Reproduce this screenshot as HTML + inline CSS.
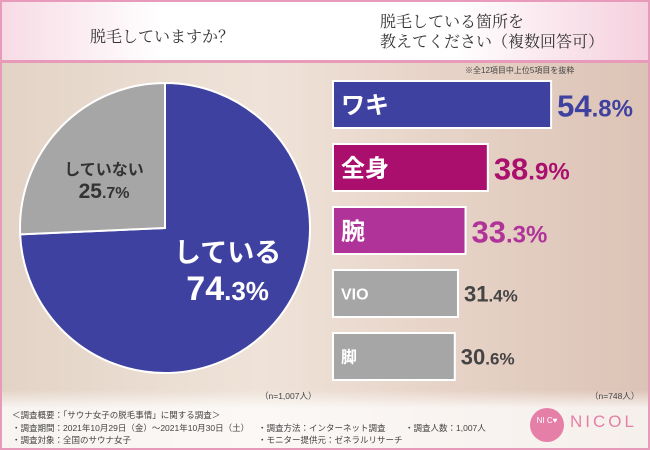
<!DOCTYPE html>
<html><head><meta charset="utf-8"><style>
body{margin:0}
#c{position:relative;width:650px;height:450px;overflow:hidden;font-family:"Liberation Sans","Noto Sans CJK JP",sans-serif;background:linear-gradient(90deg,#e3d3c6 0%,#efe3d9 40%,#e6d2c6 70%,#dcc3b6 100%)}
#hdr{position:absolute;left:0;top:0;width:650px;height:60px;background:linear-gradient(90deg,#f7dbe5,#fff 25%,#fff 70%,#f5cfdd);border-bottom:3px solid #e79ab9}
.t{position:absolute;font-family:"Noto Serif CJK SC","Noto Sans CJK JP",serif;color:#333;font-size:16px}
#frame{position:absolute;left:0;top:0;width:646px;height:446px;border:2px solid #e79ab9;pointer-events:none}
#foot{position:absolute;left:0;top:390px;width:650px;height:60px;background:linear-gradient(180deg,rgba(255,255,255,0),rgba(255,255,255,.75) 30%)}
.f{position:absolute;font-size:8.5px;color:#444;white-space:nowrap}
</style></head><body>
<div id="c">
<div id="hdr"></div>
<div class="t" style="left:90px;top:24px">脱毛していますか？</div>
<div class="t" style="left:380px;top:11px;line-height:20px">脱毛している箇所を<br>教えてください（複数回答可）</div>
<div class="f" style="left:465px;top:65px;font-size:8px">※全12項目中上位5項目を抜粋</div>
<div id="foot"></div>
<svg id="s" width="650" height="450" style="position:absolute;left:0;top:0"></svg>
<div class="f" style="left:260px;top:390px">（n=1,007人）</div>
<div class="f" style="left:590px;top:390px">（n=748人）</div>
<div class="f" style="left:12px;top:409px;line-height:12.5px">＜調査概要：「サウナ女子の脱毛事情」に関する調査＞<br>・調査期間：2021年10月29日（金）〜2021年10月30日（土）<br>・調査対象：全国のサウナ女子</div>
<div class="f" style="left:258px;top:421.5px;line-height:12.5px">・調査方法：インターネット調査<br>・モニター提供元：ゼネラルリサーチ</div>
<div class="f" style="left:405px;top:421.5px">・調査人数：1,007人</div>
<div style="position:absolute;left:530px;top:408px;width:34px;height:34px;border-radius:50%;background:#e67fa8;color:#fff;font-size:8px;text-align:center;line-height:26px">NI C♥</div>
<div style="position:absolute;left:570px;top:412px;color:#e67fa8;font-size:17px;letter-spacing:3px">NICOL</div>
<div id="frame"></div>
</div>
<script>
const pieLabels=["している","していない"];
const pieValues=[74.3,25.7];
const pieColors=["#3f41a0","#a6a6a6"];
const barCats=["ワキ","全身","腕","VIO","脚"];
const barValues=[54.8,38.9,33.3,31.4,30.6];
const barColors=["#3f41a0","#aa0f6e","#b0339a","#a6a6a6","#a6a6a6"];
const NS="http://www.w3.org/2000/svg";
const svg=document.getElementById('s');
function mk(t,a){const e=document.createElementNS(NS,t);for(const k in a)e.setAttribute(k,a[k]);svg.appendChild(e);return e;}
function valText(v,x,y,big,small,fill,anchor){
 const t=mk('text',{x:x,y:y,fill:fill,'font-weight':'bold','text-anchor':anchor||'start'});
 const s=v.toFixed(1),ip=s.split('.')[0];
 const a=document.createElementNS(NS,'tspan');a.setAttribute('font-size',big);a.textContent=ip;t.appendChild(a);
 const b=document.createElementNS(NS,'tspan');b.setAttribute('font-size',small);b.textContent='.'+s.split('.')[1]+'%';t.appendChild(b);
 return t;
}
const cx=165,cy=228,r=145;
const tot=pieValues.reduce((a,b)=>a+b,0);
let ang=0;
pieValues.forEach((v,i)=>{
 const a0=ang,a1=ang+v/tot*2*Math.PI;ang=a1;
 const x0=cx+r*Math.sin(a0),y0=cy-r*Math.cos(a0),x1=cx+r*Math.sin(a1),y1=cy-r*Math.cos(a1);
 const p=mk('path',{d:`M${cx},${cy}L${x0},${y0}A${r},${r} 0 ${a1-a0>Math.PI?1:0} 1 ${x1},${y1}Z`,fill:pieColors[i],stroke:'#fff','stroke-width':2});
 
 
 const m=(a0+a1)/2,rr=i==0?0.55:0.62;
 const big=i==0;
 const lx=cx+rr*r*Math.sin(m)+(big?5:4),ly=cy-rr*r*Math.cos(m)+(big?-13:13);
 const t1=mk('text',{x:lx,y:ly-(big?8:4),'text-anchor':'middle',fill:big?'#fff':'#333','font-size':big?27:16,'font-weight':'bold'});
 t1.textContent=pieLabels[i];
 
 
 const t2=valText(v,lx,ly+(big?30:19),big?34:21,big?26:16,big?'#fff':'#333','middle');
 
 
});
const x0=333,sc=3.98,by0=81,bh=47,pitch=63;
barValues.forEach((v,i)=>{
 const y=by0+i*pitch,w=v*sc;
 const b=mk('rect',{x:x0,y:y,width:w,height:bh,fill:barColors[i],stroke:'#fff','stroke-width':2});
 
 
 const top=i<3;
 const l=mk('text',{x:x0+8,y:y+bh/2+(top?9:6),fill:'#fff','font-size':top?24:16,'font-weight':'bold'});
 l.textContent=barCats[i];
 
 
 const vc=top?barColors[i]:'#444';
 const t=valText(v,x0+w+6,y+bh/2+(top?12:8),top?31:22,top?24:17,vc);
 
 
});
</script>
</body></html>
